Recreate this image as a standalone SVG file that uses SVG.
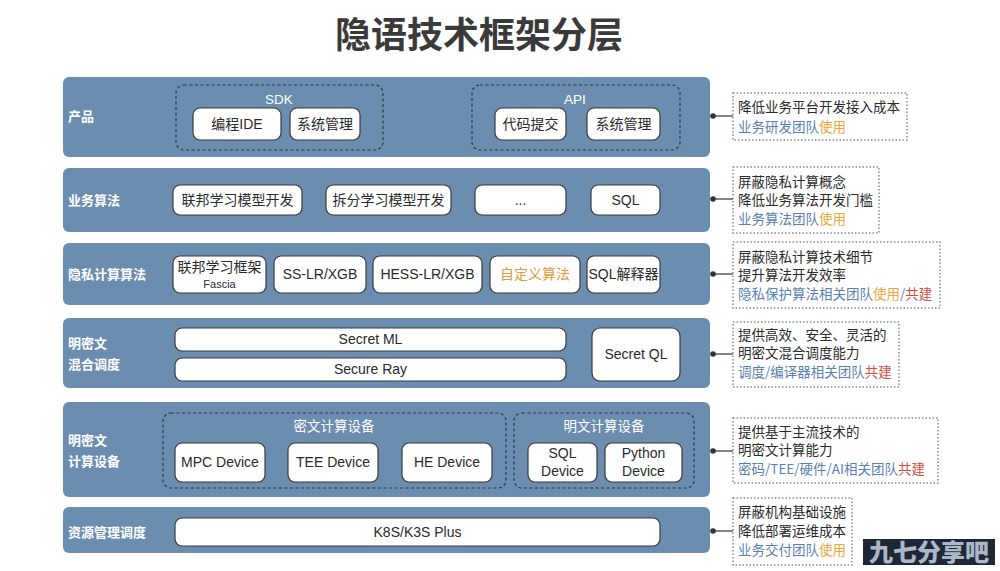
<svg xmlns="http://www.w3.org/2000/svg" width="1000" height="571" viewBox="0 0 1000 571">
<style>
text{font-family:"Liberation Sans","Noto Sans CJK SC",sans-serif;}
.title{font-size:36px;font-weight:bold;fill:#3a3a3a;font-family:"Noto Sans CJK SC",sans-serif;}
.bar{fill:#6b8db0;}
.lbl{font-size:13px;font-weight:bold;fill:#fff;font-family:"Noto Sans CJK SC",sans-serif;}
.btn{fill:#fff;stroke:#3a3a3a;stroke-width:1.2;}
.bt{font-size:14px;fill:#2a2a2a;text-anchor:middle;}
.grp{fill:none;stroke:#2e3a48;stroke-width:1.2;stroke-dasharray:3 2.5;}
.gt{font-size:13.5px;fill:#fff;text-anchor:middle;}
.note{fill:#fff;stroke:#8a8a8a;stroke-width:1.5;stroke-dasharray:1.5 2;}
.nt{font-size:13.5px;fill:#2a2a2a;font-family:"Noto Sans CJK SC",sans-serif;}
.blue{fill:#5a7fb3;}
.org{fill:#eea73a;}
.red{fill:#d4503e;}
.con line{stroke:#333;stroke-width:1.2;}
.con circle{fill:#333;}
</style>
<rect width="1000" height="571" fill="#fff"/>
<text class="title" x="479" y="48" text-anchor="middle">隐语技术框架分层</text>

<g id="layer-product">
<rect class="bar" x="63" y="77" width="647" height="80" rx="6"/>
<text class="lbl" x="68" y="121">产品</text>
<rect class="grp" x="176" y="85" width="207" height="65" rx="8"/>
<text class="gt" x="279" y="104">SDK</text>
<rect class="btn" x="193" y="108" width="88" height="32" rx="7"/>
<text class="bt" x="237" y="129">编程IDE</text>
<rect class="btn" x="290" y="108" width="70" height="32" rx="7"/>
<text class="bt" x="325" y="129">系统管理</text>
<rect class="grp" x="472" y="85" width="208" height="65" rx="8"/>
<text class="gt" x="575" y="104">API</text>
<rect class="btn" x="495" y="108" width="71" height="32" rx="7"/>
<text class="bt" x="530.5" y="129">代码提交</text>
<rect class="btn" x="587" y="108" width="73" height="32" rx="7"/>
<text class="bt" x="623.5" y="129">系统管理</text>
</g>

<g id="layer-business">
<rect class="bar" x="63" y="168" width="647" height="64" rx="6"/>
<text class="lbl" x="68" y="205">业务算法</text>
<rect class="btn" x="173" y="185" width="129" height="30" rx="7"/>
<text class="bt" x="237.5" y="205">联邦学习模型开发</text>
<rect class="btn" x="326" y="185" width="125" height="30" rx="7"/>
<text class="bt" x="388.5" y="205">拆分学习模型开发</text>
<rect class="btn" x="475" y="185" width="91" height="30" rx="7"/>
<text class="bt" x="520.5" y="205">...</text>
<rect class="btn" x="591" y="185" width="69" height="30" rx="7"/>
<text class="bt" x="625.5" y="205">SQL</text>
</g>

<g id="layer-privacy">
<rect class="bar" x="63" y="243" width="647" height="62" rx="6"/>
<text class="lbl" x="68" y="279">隐私计算算法</text>
<rect class="btn" x="173" y="256" width="93" height="37" rx="7"/>
<text class="bt" x="219.5" y="272">联邦学习框架</text>
<text class="bt" x="219.5" y="288" style="font-size:11px">Fascia</text>
<rect class="btn" x="274" y="256" width="92" height="37" rx="7"/>
<text class="bt" x="320" y="279">SS-LR/XGB</text>
<rect class="btn" x="373" y="256" width="109" height="37" rx="7"/>
<text class="bt" x="427.5" y="279">HESS-LR/XGB</text>
<rect class="btn" x="490" y="256" width="90" height="37" rx="7"/>
<text class="bt" x="535" y="279" style="fill:#e39a3c">自定义算法</text>
<rect class="btn" x="587" y="256" width="73" height="37" rx="7"/>
<text class="bt" x="623.5" y="279">SQL解释器</text>
</g>

<g id="layer-schedule">
<rect class="bar" x="63" y="318" width="647" height="70" rx="6"/>
<text class="lbl" x="68" y="348">明密文</text>
<text class="lbl" x="68" y="369">混合调度</text>
<rect class="btn" x="175" y="328" width="391" height="23" rx="7"/>
<text class="bt" x="370.5" y="344">Secret ML</text>
<rect class="btn" x="175" y="358" width="391" height="23" rx="7"/>
<text class="bt" x="370.5" y="374">Secure Ray</text>
<rect class="btn" x="592" y="328" width="88" height="53" rx="8"/>
<text class="bt" x="636" y="359">Secret QL</text>
</g>

<g id="layer-device">
<rect class="bar" x="63" y="402" width="647" height="95" rx="6"/>
<text class="lbl" x="68" y="445">明密文</text>
<text class="lbl" x="68" y="466">计算设备</text>
<rect class="grp" x="163" y="413" width="343" height="75" rx="8"/>
<text class="gt" x="334" y="431">密文计算设备</text>
<rect class="btn" x="175" y="443" width="90" height="39" rx="7"/>
<text class="bt" x="220" y="467">MPC Device</text>
<rect class="btn" x="288" y="443" width="90" height="39" rx="7"/>
<text class="bt" x="333" y="467">TEE Device</text>
<rect class="btn" x="402" y="443" width="90" height="39" rx="7"/>
<text class="bt" x="447" y="467">HE Device</text>
<rect class="grp" x="514" y="413" width="180" height="75" rx="8"/>
<text class="gt" x="604" y="431">明文计算设备</text>
<rect class="btn" x="528" y="443" width="69" height="39" rx="7"/>
<text class="bt" x="562.5" y="458">SQL</text>
<text class="bt" x="562.5" y="476">Device</text>
<rect class="btn" x="605" y="443" width="77" height="39" rx="7"/>
<text class="bt" x="643.5" y="458">Python</text>
<text class="bt" x="643.5" y="476">Device</text>
</g>

<g id="layer-resource">
<rect class="bar" x="63" y="507" width="647" height="46" rx="6"/>
<text class="lbl" x="68" y="537">资源管理调度</text>
<rect class="btn" x="175" y="518" width="485" height="28" rx="7"/>
<text class="bt" x="417.5" y="537">K8S/K3S Plus</text>
</g>

<g id="connectors" class="con">
<line x1="713" y1="116" x2="733" y2="116"/><circle cx="713" cy="116" r="2.8"/>
<line x1="713" y1="199" x2="733" y2="199"/><circle cx="713" cy="199" r="2.8"/>
<line x1="713" y1="274" x2="733" y2="274"/><circle cx="713" cy="274" r="2.8"/>
<line x1="713" y1="354" x2="733" y2="354"/><circle cx="713" cy="354" r="2.8"/>
<line x1="713" y1="451" x2="733" y2="451"/><circle cx="713" cy="451" r="2.8"/>
<line x1="713" y1="531" x2="733" y2="531"/><circle cx="713" cy="531" r="2.8"/>
</g>

<g id="note-product">
<rect class="note" x="733" y="93" width="174" height="47"/>
<text class="nt" x="738" y="112">降低业务平台开发接入成本</text>
<text class="nt" x="738" y="132"><tspan class="blue">业务研发团队</tspan><tspan class="org">使用</tspan></text>
</g>
<g id="note-business">
<rect class="note" x="733" y="167" width="146" height="66"/>
<text class="nt" x="738" y="187">屏蔽隐私计算概念</text>
<text class="nt" x="738" y="205">降低业务算法开发门槛</text>
<text class="nt" x="738" y="224"><tspan class="blue">业务算法团队</tspan><tspan class="org">使用</tspan></text>
</g>
<g id="note-privacy">
<rect class="note" x="733" y="242" width="207" height="66"/>
<text class="nt" x="738" y="262">屏蔽隐私计算技术细节</text>
<text class="nt" x="738" y="280">提升算法开发效率</text>
<text class="nt" x="738" y="299"><tspan class="blue">隐私保护算法相关团队</tspan><tspan class="org">使用</tspan><tspan class="blue">/</tspan><tspan class="red">共建</tspan></text>
</g>
<g id="note-schedule">
<rect class="note" x="733" y="322" width="166" height="65"/>
<text class="nt" x="738" y="340">提供高效、安全、灵活的</text>
<text class="nt" x="738" y="358">明密文混合调度能力</text>
<text class="nt" x="738" y="377"><tspan class="blue">调度/编译器相关团队</tspan><tspan class="red">共建</tspan></text>
</g>
<g id="note-device">
<rect class="note" x="733" y="418" width="205" height="65"/>
<text class="nt" x="738" y="437">提供基于主流技术的</text>
<text class="nt" x="738" y="455">明密文计算能力</text>
<text class="nt" x="738" y="474"><tspan class="blue">密码/TEE/硬件/AI相关团队</tspan><tspan class="red">共建</tspan></text>
</g>
<g id="note-resource">
<rect class="note" x="733" y="498" width="119" height="67"/>
<text class="nt" x="738" y="517">屏蔽机构基础设施</text>
<text class="nt" x="738" y="536">降低部署运维成本</text>
<text class="nt" x="738" y="555"><tspan class="blue">业务交付团队</tspan><tspan class="org">使用</tspan></text>
</g>

<g id="watermark">
<rect x="863" y="539" width="132" height="26" fill="#1e2733"/>
<text x="929" y="561" text-anchor="middle" style="font-family:'Noto Sans CJK SC',sans-serif;font-size:24px;font-weight:900;fill:#a9b8c9">九七分享吧</text>
</g>
</svg>
